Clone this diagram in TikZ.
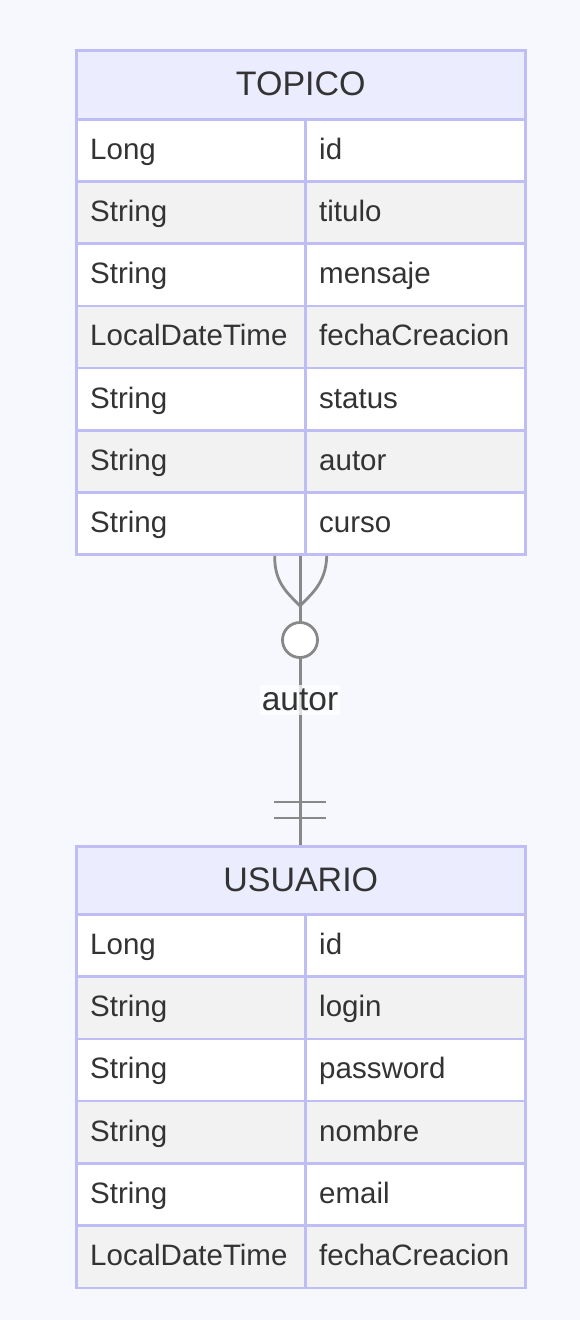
\documentclass[tikz,border=0pt]{standalone}
\usepackage{fontspec}
\setmainfont{Liberation Sans}
\definecolor{bg}{RGB}{247,248,253}
\definecolor{bd}{RGB}{190,190,245}
\definecolor{hd}{RGB}{236,236,255}
\definecolor{odd}{RGB}{242,242,242}
\definecolor{tx}{RGB}{51,51,51}
\definecolor{ln}{RGB}{136,136,136}
\begin{document}
\begin{tikzpicture}[x=1pt,y=-1pt,
  hdr/.style={draw=bd, fill=hd, line width=2.5pt, minimum width=449pt, minimum height=69pt, inner sep=0pt, anchor=north west},
  htxt/.style={anchor=base, inner sep=0pt, text=tx, font=\fontsize{34}{40}\selectfont},
  cellA/.style={draw=bd, line width=2.5pt, inner sep=0pt, anchor=north west, minimum width=229pt, minimum height=62.2pt},
  cellB/.style={draw=bd, line width=2.5pt, inner sep=0pt, anchor=north west, minimum width=220pt, minimum height=62.2pt},
  txt/.style={anchor=base west, inner sep=0pt, text=tx, font=\fontsize{29.5}{34}\selectfont},
  rel/.style={draw=ln, line width=2.8pt},
  lbl/.style={fill=white, fill opacity=0.75, text opacity=1, text=tx, inner xsep=2pt, inner ysep=4pt, font=\fontsize{33.5}{38}\selectfont}]
\useasboundingbox[fill=bg] (0,0) rectangle (580,1320);

% TOPICO
\node[hdr] (t-h) at (75,49) {};
\node[htxt] (t-ht) at ([yshift=-10.5pt]t-h.center) {TOPICO};
\foreach \a/\b [count=\i] in {Long/id, String/titulo, String/mensaje, LocalDateTime/fechaCreacion, String/status, String/autor, String/curso}{
  \pgfmathsetmacro{\yy}{118+62.2*(\i-1)}
  \pgfmathtruncatemacro{\pr}{mod(\i,2)}
  \ifnum\pr=1 \def\fc{white}\else\def\fc{odd}\fi
  \node[cellA, fill=\fc] (t-\i a) at (75,\yy) {};
  \node[cellB, fill=\fc] (t-\i b) at (304,\yy) {};
  \node[txt] (t-\i at) at ([xshift=15pt,yshift=-9pt]t-\i a.west) {\a};
  \node[txt] (t-\i bt) at ([xshift=15pt,yshift=-9pt]t-\i b.west) {\b};
}

% USUARIO
\node[hdr] (u-h) at (75,845) {};
\node[htxt] (u-ht) at ([yshift=-10.5pt]u-h.center) {USUARIO};
\foreach \a/\b [count=\i] in {Long/id, String/login, String/password, String/nombre, String/email, LocalDateTime/fechaCreacion}{
  \pgfmathsetmacro{\yy}{913+62.3*(\i-1)}
  \pgfmathtruncatemacro{\pr}{mod(\i,2)}
  \ifnum\pr=1 \def\fc{white}\else\def\fc{odd}\fi
  \node[cellA, fill=\fc] (u-\i a) at (75,\yy) {};
  \node[cellB, fill=\fc] (u-\i b) at (304,\yy) {};
  \node[txt] (u-\i at) at ([xshift=15pt,yshift=-9pt]u-\i a.west) {\a};
  \node[txt] (u-\i bt) at ([xshift=15pt,yshift=-9pt]u-\i b.west) {\b};
}

% relationship
\coordinate (top) at (t-h.center |- t-7a.south);
\coordinate (bot) at (u-h.north);
\draw[rel] (top) -- (bot);
\coordinate (tip) at (300,606);
\draw[rel] ([xshift=-26pt]top) .. controls (274,584) and (290,595) .. (tip);
\draw[rel] ([xshift=26pt]top) .. controls (326,584) and (310,595) .. (tip);
\node[rel, circle, fill=white, minimum size=35pt, inner sep=0pt] (zero) at (300,640) {};
\draw[rel] (274,802) -- (326,802);
\draw[rel] (274,818) -- (326,818);
\node[lbl] (lab) at (300,700) {autor};
\end{tikzpicture}
\end{document}
